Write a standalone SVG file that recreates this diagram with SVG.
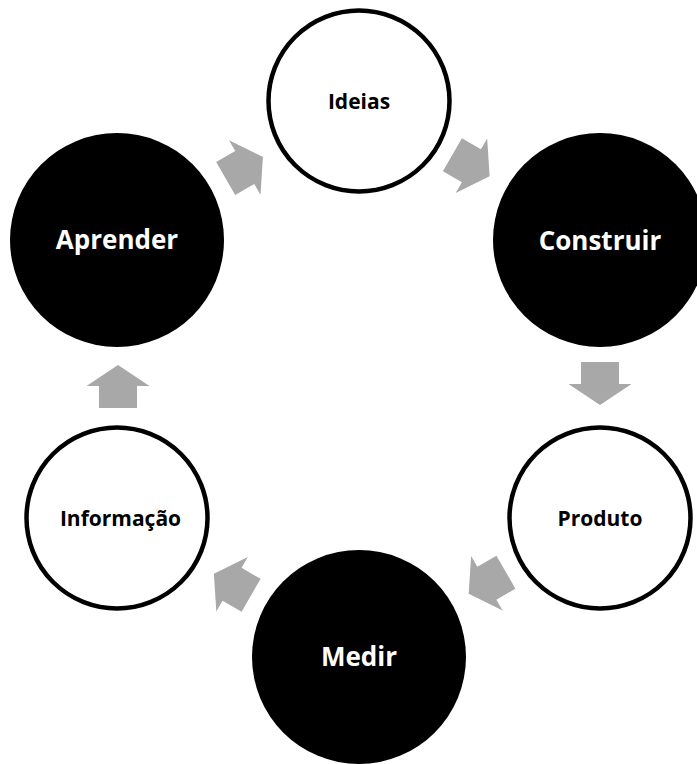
<svg xmlns="http://www.w3.org/2000/svg" xmlns:xlink="http://www.w3.org/1999/xlink" width="697" height="764" viewBox="0 0 697 764">
  <style>
    .dark { fill: #000000; }
    .light { fill: #ffffff; stroke: #000000; stroke-width: 4.5; }
    .label { font-family: "Open Sans", "Liberation Sans", sans-serif; font-weight: 700; text-anchor: middle; }
    .big { font-size: 26px; fill: #ffffff; }
    .small { font-size: 21px; fill: #000000; }
    .arrow { fill: #A8A8A8; }
  </style>
  <defs>
    <!-- block arrow pointing along +x, centred on the origin -->
    <path id="blockArrow" d="M -21.5,-19 L 0.5,-19 L 0.5,-31.5 L 21.5,0 L 0.5,31.5 L 0.5,19 L -21.5,19 Z"/>
  </defs>
  <rect width="697" height="764" fill="#ffffff"/>

  <g id="connectors" class="arrow">
    <use xlink:href="#blockArrow" transform="translate(244.3,167.7) rotate(-30)"/>
    <use xlink:href="#blockArrow" transform="translate(471,165.5) rotate(30)"/>
    <use xlink:href="#blockArrow" transform="translate(600,383.5) rotate(90)"/>
    <use xlink:href="#blockArrow" transform="translate(487.3,583) rotate(150)"/>
    <use xlink:href="#blockArrow" transform="translate(232.5,584.5) rotate(210)"/>
    <use xlink:href="#blockArrow" transform="translate(118,386.5) rotate(-90)"/>
  </g>

  <g id="node-ideias">
    <circle class="light" cx="359" cy="101" r="90.5"/>
    <text class="label small" x="359" y="108.5">Ideias</text>
  </g>
  <g id="node-construir">
    <circle class="dark" cx="600" cy="240" r="107"/>
    <text class="label big" x="600" y="249.5">Construir</text>
  </g>
  <g id="node-produto">
    <circle class="light" cx="600" cy="518" r="90.5"/>
    <text class="label small" x="600" y="526">Produto</text>
  </g>
  <g id="node-medir">
    <circle class="dark" cx="359" cy="657" r="107"/>
    <text class="label big" x="359" y="666" font-size="26.5">Medir</text>
  </g>
  <g id="node-informacao">
    <circle class="light" cx="117" cy="518" r="90.5"/>
    <text class="label small" x="120.5" y="526">Informação</text>
  </g>
  <g id="node-aprender">
    <circle class="dark" cx="117" cy="240" r="107"/>
    <text class="label big" x="117" y="248.5">Aprender</text>
  </g>
</svg>
